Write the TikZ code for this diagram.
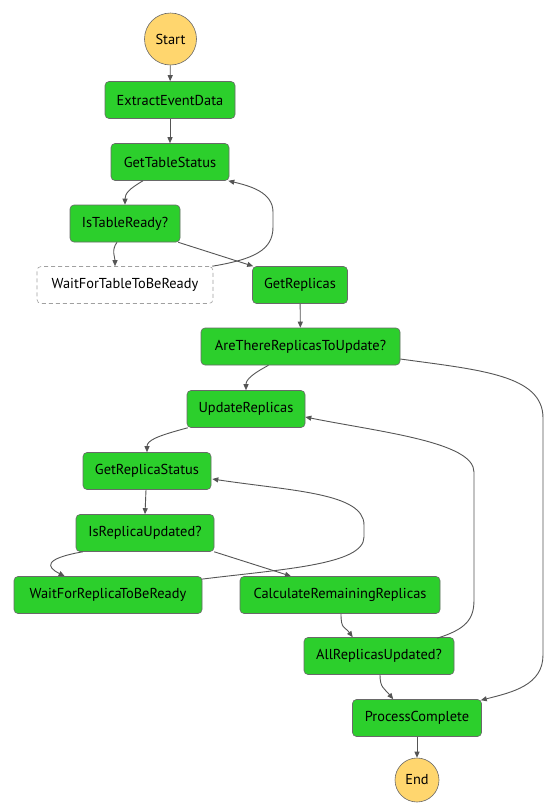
\documentclass[tikz,border=0pt]{standalone}
\usepackage{fontspec}
\setmainfont{PT Sans}
\usetikzlibrary{arrows.meta,calc}
\definecolor{sfgreen}{RGB}{44,207,44}
\definecolor{boxborder}{RGB}{105,105,105}
\definecolor{termfill}{RGB}{255,214,110}
\definecolor{linegray}{RGB}{85,85,85}
\definecolor{dashgray}{RGB}{160,160,160}
\begin{document}
\begin{tikzpicture}[x=1pt,y=-1pt,
  stepbox/.style={rectangle, rounded corners=4pt, draw=boxborder, line width=0.6pt,
    fill=sfgreen, minimum height=37pt, inner sep=0pt, font=\fontsize{14.4}{16}\selectfont},
  waitbox/.style={stepbox, fill=white, draw=dashgray, dash pattern=on 4pt off 3pt},
  terminal/.style={circle, draw=boxborder, line width=0.6pt, fill=termfill, inner sep=0pt,
    font=\fontsize{14.4}{16}\selectfont},
  edge/.style={draw=linegray, line width=0.9pt, -{Triangle[length=6pt,width=5pt]}}]
\useasboundingbox (0,0) rectangle (557,812);
\fill[white] (0,0) rectangle (557,812);

\node[terminal, minimum size=52pt] (start) at (170.5,39) {Start};
\node[stepbox, minimum width=130pt] (eed) at (170,100) {ExtractEventData};
\node[stepbox, minimum width=118pt] (gts) at (170,162) {GetTableStatus};
\node[stepbox, minimum width=110pt] (itr) at (125,223.5) {IsTableReady?};
\node[waitbox, minimum width=176pt] (wttr) at (125,285) {WaitForTableToBeReady};
\node[stepbox, minimum width=95pt] (gr) at (300,285) {GetReplicas};
\node[stepbox, minimum width=199pt] (atr) at (300.5,346.5) {AreThereReplicasToUpdate?};
\node[stepbox, minimum width=118pt] (ur) at (246,409) {UpdateReplicas};
\node[stepbox, minimum width=128pt] (grs) at (147,471) {GetReplicaStatus};
\node[stepbox, minimum width=138pt] (iru) at (145,533) {IsReplicaUpdated?};
\node[stepbox, minimum width=188pt] (wrr) at (108,595) {WaitForReplicaToBeReady};
\node[stepbox, minimum width=200pt] (crr) at (340,595) {CalculateRemainingReplicas};
\node[stepbox, minimum width=150pt] (aru) at (379,656) {AllReplicasUpdated?};
\node[stepbox, minimum width=129pt] (pc) at (417,718) {ProcessComplete};
\node[terminal, minimum size=44pt] (end) at (417,780) {End};

% waypoints
\coordinate (wa1) at (273,227);
\coordinate (wa2) at (273,212);
\coordinate (wb1) at (543,418);
\coordinate (wb2) at (543,655);
\coordinate (wc1) at (364,537);
\coordinate (wc2) at (364,525);
\coordinate (wd1) at (474,600);
\coordinate (wd2) at (474,472);

\draw[edge] (start) -- (eed);
\draw[edge] (eed) -- (gts);
\draw[edge] ($(gts.south)+(-27,0)$) .. controls +(-14,8) and +(0,-11) .. (itr.north);
\draw[edge] ($(itr.south)+(-8,0)$) .. controls +(-6,8) and +(0,-9) .. ($(wttr.north)+(-10,0)$);
\draw[edge] ($(itr.south east)+(-2,0)$) -- ($(gr.north west)+(1,0)$);
\draw[edge] ($(wttr.north east)+(-1,0)$) .. controls +(42,-7) and +(0,23) .. (wa1)
  -- (wa2) .. controls +(0,-20) and +(21,5) .. ($(gts.south east)+(-1,0)$);
\draw[edge] (gr) -- (atr);
\draw[edge] ($(atr.south)+(-32,0)$) .. controls +(-15,8) and +(0,-11) .. (ur.north);
\draw[edge] ($(atr.east)+(0,12.5)$) .. controls +(80,11) and +(0,-43) .. (wb1)
  -- (wb2) .. controls +(0,30) and +(32,-8) .. ($(pc.north east)+(-1,1)$);
\draw[edge] ($(ur.south west)+(1,0)$) .. controls +(-30,8) and +(0,-12) .. (grs.north);
\draw[edge] ($(grs.south)+(-1,0)$) -- (iru.north);
\draw[edge] ($(iru.south west)+(7,0)$) .. controls +(-40,7) and +(-18,-9) .. ($(wrr.north west)+(51,0)$);
\draw[edge] ($(iru.south east)+(0,0)$) -- ($(crr.north)+(-49,0)$);
\draw[edge] ($(wrr.north east)+(-1,3)$) .. controls +(80,-10) and +(0,28) .. (wc1)
  -- (wc2) .. controls +(0,-32) and +(80,12) .. ($(grs.east)+(1,8)$);
\draw[edge] ($(crr.south)+(1,0)$) .. controls +(0,16) and +(-8,-11) .. ($(aru.north west)+(49,0)$);
\draw[edge] ($(aru.north east)+(-17,1)$) .. controls +(28,-9) and +(0,20) .. (wd1)
  -- (wd2) .. controls +(0,-30) and +(75,15) .. ($(ur.east)+(0,8)$);
\draw[edge] ($(aru.south)+(1,0)$) .. controls +(0,13) and +(-9,-11) .. ($(pc.north west)+(41,0)$);
\draw[edge] (pc) -- (end);
\end{tikzpicture}
\end{document}
